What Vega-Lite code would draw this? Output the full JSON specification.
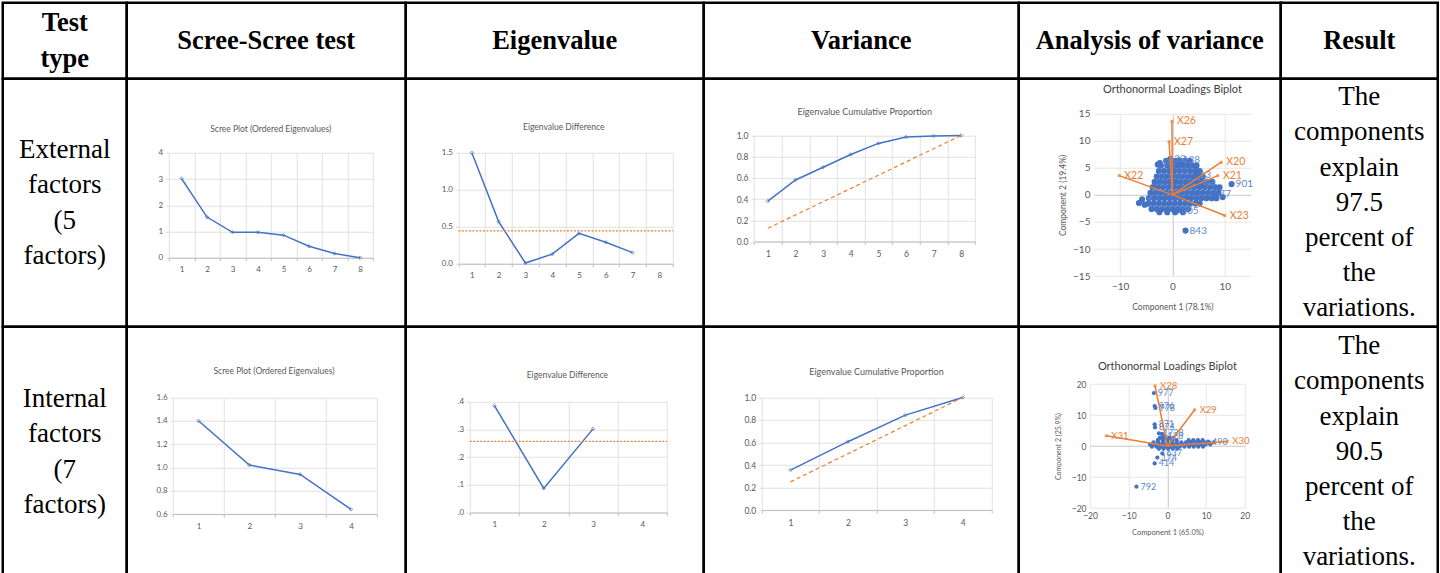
{
  "$schema": "https://vega.github.io/schema/vega-lite/v6.json",
  "background": "white",
  "padding": {"left": 0.75, "top": 0.75, "right": 0, "bottom": 0},
  "columns": 6,
  "spacing": 0,
  "bounds": "flush",
  "config": {
    "view": {"stroke": "#000000", "strokeWidth": 2.5},
    "axis": {"labelFont": "Lato", "labelFontSize": 8, "labelColor": "#595959", "gridColor": "#e1e1e1", "tickColor": "#d9d9d9", "domainColor": "#bfbfbf", "titleFont": "Lato", "titleFontWeight": "normal", "titleColor": "#595959", "titleFontSize": 8.5, "labelFlush": false, "labelOverlap": false},
    "text": {"font": "Lato"}
  },
  "datasets": {
    "scree1": [{"k":1,"v":3.02},{"k":2,"v":1.55},{"k":3,"v":0.97},{"k":4,"v":0.97},{"k":5,"v":0.86},{"k":6,"v":0.44},{"k":7,"v":0.16},{"k":8,"v":0.0}],
    "diff1": [{"k":1,"v":1.5},{"k":2,"v":0.57},{"k":3,"v":0.01},{"k":4,"v":0.13},{"k":5,"v":0.41},{"k":6,"v":0.29},{"k":7,"v":0.15}],
    "thr1": [{"v":0.445}],
    "cum1": [{"k":1,"v":0.38},{"k":2,"v":0.58},{"k":3,"v":0.70},{"k":4,"v":0.82},{"k":5,"v":0.925},{"k":6,"v":0.985},{"k":7,"v":0.995},{"k":8,"v":1.0}],
    "ref1": [{"k":1,"v":0.125},{"k":2,"v":0.25},{"k":3,"v":0.375},{"k":4,"v":0.5},{"k":5,"v":0.625},{"k":6,"v":0.75},{"k":7,"v":0.875},{"k":8,"v":1.0}],
    "scree2": [{"k":1,"v":1.40},{"k":2,"v":1.02},{"k":3,"v":0.94},{"k":4,"v":0.64}],
    "diff2": [{"k":1,"v":0.386},{"k":2,"v":0.087},{"k":3,"v":0.302}],
    "thr2": [{"v":0.257}],
    "cum2": [{"k":1,"v":0.355},{"k":2,"v":0.607},{"k":3,"v":0.843},{"k":4,"v":1.0}],
    "ref2": [{"k":1,"v":0.25},{"k":2,"v":0.5},{"k":3,"v":0.75},{"k":4,"v":1.0}],
    "bp1load": [{"x":9.33,"y":6.04,"lab":"X20"},{"x":8.69,"y":3.57,"lab":"X21"},{"x":-10.17,"y":3.57,"lab":"X22"},{"x":10.0,"y":-3.82,"lab":"X23"},{"x":-0.1,"y":13.6,"lab":"X26"},{"x":-0.65,"y":9.85,"lab":"X27"}],
    "bp2load": [{"x":-3.2,"y":19.45,"lab":"X28"},{"x":7.05,"y":11.7,"lab":"X29"},{"x":15.5,"y":1.5,"lab":"X30"},{"x":-15.8,"y":3.3,"lab":"X31"}],
    "bp1pts": [
      {"x":-1.2,"y":6.3},{"x":-0.3,"y":6.3},{"x":0.6,"y":6.3},{"x":1.5,"y":6.3},{"x":2.4,"y":6.3},{"x":3.3,"y":6.3},
      {"x":-2.2,"y":5.4},{"x":-1.0,"y":5.4},{"x":0.0,"y":5.4},{"x":1.0,"y":5.4},{"x":2.0,"y":5.4},{"x":3.0,"y":5.4},{"x":4.0,"y":5.4},{"x":4.6,"y":5.4},
      {"x":-2.6,"y":4.4},{"x":-1.6,"y":4.4},{"x":-0.6,"y":4.4},{"x":0.4,"y":4.4},{"x":1.4,"y":4.4},{"x":2.4,"y":4.4},{"x":3.4,"y":4.4},{"x":4.4,"y":4.4},{"x":5.2,"y":4.4},
      {"x":-3.0,"y":3.4},{"x":-2.0,"y":3.4},{"x":-1.0,"y":3.4},{"x":0.0,"y":3.4},{"x":1.0,"y":3.4},{"x":2.0,"y":3.4},{"x":3.0,"y":3.4},{"x":4.0,"y":3.4},{"x":5.0,"y":3.4},{"x":5.8,"y":3.4},
      {"x":-3.4,"y":2.4},{"x":-2.4,"y":2.4},{"x":-1.4,"y":2.4},{"x":-0.4,"y":2.4},{"x":0.6,"y":2.4},{"x":1.6,"y":2.4},{"x":2.6,"y":2.4},{"x":3.6,"y":2.4},{"x":4.6,"y":2.4},{"x":5.6,"y":2.4},{"x":6.6,"y":2.4},{"x":7.6,"y":2.4},
      {"x":-3.8,"y":1.4},{"x":-2.8,"y":1.4},{"x":-1.8,"y":1.4},{"x":-0.8,"y":1.4},{"x":0.2,"y":1.4},{"x":1.2,"y":1.4},{"x":2.2,"y":1.4},{"x":3.2,"y":1.4},{"x":4.2,"y":1.4},{"x":5.2,"y":1.4},{"x":6.2,"y":1.4},{"x":7.2,"y":1.4},{"x":8.2,"y":1.4},{"x":9.0,"y":1.4},
      {"x":-4.2,"y":0.4},{"x":-3.2,"y":0.4},{"x":-2.2,"y":0.4},{"x":-1.2,"y":0.4},{"x":-0.2,"y":0.4},{"x":0.8,"y":0.4},{"x":1.8,"y":0.4},{"x":2.8,"y":0.4},{"x":3.8,"y":0.4},{"x":4.8,"y":0.4},{"x":5.8,"y":0.4},{"x":6.8,"y":0.4},{"x":7.8,"y":0.4},{"x":8.8,"y":0.4},
      {"x":-4.5,"y":-0.6},{"x":-3.5,"y":-0.6},{"x":-2.5,"y":-0.6},{"x":-1.5,"y":-0.6},{"x":-0.5,"y":-0.6},{"x":0.5,"y":-0.6},{"x":1.5,"y":-0.6},{"x":2.5,"y":-0.6},{"x":3.5,"y":-0.6},{"x":4.5,"y":-0.6},{"x":5.5,"y":-0.6},{"x":6.5,"y":-0.6},{"x":7.5,"y":-0.6},{"x":8.4,"y":-0.6},
      {"x":-4.6,"y":-1.6},{"x":-3.6,"y":-1.6},{"x":-2.6,"y":-1.6},{"x":-1.6,"y":-1.6},{"x":-0.6,"y":-1.6},{"x":0.4,"y":-1.6},{"x":1.4,"y":-1.6},{"x":2.4,"y":-1.6},{"x":3.4,"y":-1.6},{"x":4.4,"y":-1.6},{"x":5.2,"y":-1.6},
      {"x":-4.0,"y":-2.6},{"x":-3.0,"y":-2.6},{"x":-2.0,"y":-2.6},{"x":-1.0,"y":-2.6},{"x":0.0,"y":-2.6},{"x":1.0,"y":-2.6},{"x":2.0,"y":-2.6},{"x":3.0,"y":-2.6},
      {"x":-2.5,"y":-3.2},{"x":-1.0,"y":-3.2},{"x":0.5,"y":-3.2},{"x":2.0,"y":-3.2},
      {"x":-2.8,"y":5.6},{"x":-6.4,"y":-1.5},{"x":-5.3,"y":-1.8},{"x":9.6,"y":-0.4},
      {"x":11.3,"y":2.0,"lab":"901"},{"x":2.5,"y":-6.6,"lab":"843"},{"x":0.9,"y":-2.9,"lab":"305"},{"x":-0.4,"y":6.6,"lab":"32"},{"x":1.2,"y":6.4,"lab":"138"},{"x":-2.4,"y":5.9,"lab":"86"},{"x":8.2,"y":0.2,"lab":"77"},{"x":4.4,"y":3.6,"lab":"13"},{"x":5.4,"y":2.1,"lab":"94"},{"x":-5.8,"y":-0.8,"lab":"9"}
    ],
    "bp2pts": [
      {"x":-1.5,"y":2.6},{"x":-0.5,"y":2.6},{"x":0.5,"y":2.6},{"x":1.5,"y":2.6},
      {"x":-2.5,"y":1.9},{"x":-1.2,"y":1.9},{"x":0.0,"y":1.9},{"x":1.2,"y":1.9},{"x":2.4,"y":1.9},{"x":5.5,"y":1.9},{"x":6.7,"y":1.9},{"x":7.9,"y":1.9},{"x":9.1,"y":1.9},
      {"x":-3.6,"y":1.2},{"x":-2.4,"y":1.2},{"x":-1.2,"y":1.2},{"x":0.0,"y":1.2},{"x":1.2,"y":1.2},{"x":2.4,"y":1.2},{"x":3.6,"y":1.2},{"x":4.8,"y":1.2},{"x":6.0,"y":1.2},{"x":7.2,"y":1.2},{"x":8.4,"y":1.2},{"x":9.6,"y":1.2},{"x":10.8,"y":1.2},{"x":12.0,"y":1.2},
      {"x":-4.5,"y":0.5},{"x":-3.3,"y":0.5},{"x":-2.1,"y":0.5},{"x":-0.9,"y":0.5},{"x":0.3,"y":0.5},{"x":1.5,"y":0.5},{"x":2.7,"y":0.5},{"x":3.9,"y":0.5},{"x":5.1,"y":0.5},{"x":6.3,"y":0.5},{"x":7.5,"y":0.5},{"x":8.7,"y":0.5},{"x":9.9,"y":0.5},{"x":11.1,"y":0.5},
      {"x":-4.0,"y":-0.2},{"x":-2.8,"y":-0.2},{"x":-1.6,"y":-0.2},{"x":-0.4,"y":-0.2},{"x":0.8,"y":-0.2},{"x":2.0,"y":-0.2},{"x":3.2,"y":-0.2},{"x":4.4,"y":-0.2},{"x":5.6,"y":-0.2},{"x":6.8,"y":-0.2},{"x":8.0,"y":-0.2},{"x":9.2,"y":-0.2},
      {"x":-2.2,"y":-0.9},{"x":-1.0,"y":-0.9},{"x":0.2,"y":-0.9},{"x":1.4,"y":-0.9},{"x":2.6,"y":-0.9},
      {"x":-1.4,"y":3.9},{"x":-2.0,"y":2.6},
      {"x":-3.5,"y":17.1,"lab":"977"},{"x":-3.3,"y":12.9,"lab":"976"},{"x":-3.1,"y":12.3,"lab":"978"},{"x":-3.3,"y":7.0,"lab":"871"},{"x":-3.2,"y":6.0,"lab":"874"},{"x":-2.2,"y":4.1,"lab":"1728"},{"x":-1.0,"y":3.3,"lab":"128"},{"x":-1.3,"y":-2.4,"lab":"637"},{"x":-2.6,"y":-3.7,"lab":"174"},{"x":-3.3,"y":-5.6,"lab":"414"},{"x":-8.0,"y":-13.1,"lab":"792"},{"x":10.5,"y":1.4,"lab":"498"}
    ]
  },
  "concat": [
    {"width": 124, "height": 76, "view": {"stroke": "#000000", "strokeWidth": 2.5}, "data": {"values": [{"t": "Test\ntype"}]}, "mark": {"type": "text", "font": "Liberation Serif", "fontSize": 26.5, "fontWeight": "bold", "lineBreak": "\n", "lineHeight": 36, "dy": -18, "color": "#000"}, "encoding": {"text": {"field": "t"}}},
    {"width": 279, "height": 76, "view": {"stroke": "#000000", "strokeWidth": 2.5}, "data": {"values": [{"t": "Scree-Scree test"}]}, "mark": {"type": "text", "font": "Liberation Serif", "fontSize": 26.5, "fontWeight": "bold", "color": "#000"}, "encoding": {"text": {"field": "t"}}},
    {"width": 298, "height": 76, "view": {"stroke": "#000000", "strokeWidth": 2.5}, "data": {"values": [{"t": "Eigenvalue"}]}, "mark": {"type": "text", "font": "Liberation Serif", "fontSize": 26.5, "fontWeight": "bold", "color": "#000"}, "encoding": {"text": {"field": "t"}}},
    {"width": 315, "height": 76, "view": {"stroke": "#000000", "strokeWidth": 2.5}, "data": {"values": [{"t": "Variance"}]}, "mark": {"type": "text", "font": "Liberation Serif", "fontSize": 26.5, "fontWeight": "bold", "color": "#000"}, "encoding": {"text": {"field": "t"}}},
    {"width": 262, "height": 76, "view": {"stroke": "#000000", "strokeWidth": 2.5}, "data": {"values": [{"t": "Analysis of variance"}]}, "mark": {"type": "text", "font": "Liberation Serif", "fontSize": 26.5, "fontWeight": "bold", "color": "#000"}, "encoding": {"text": {"field": "t"}}},
    {"width": 157, "height": 76, "view": {"stroke": "#000000", "strokeWidth": 2.5}, "data": {"values": [{"t": "Result"}]}, "mark": {"type": "text", "font": "Liberation Serif", "fontSize": 26.5, "fontWeight": "bold", "color": "#000"}, "encoding": {"text": {"field": "t"}}},

    {"width": 124, "height": 248, "view": {"stroke": "#000000", "strokeWidth": 2.5}, "data": {"values": [{"t": "External\nfactors\n(5\nfactors)"}]}, "mark": {"type": "text", "font": "Liberation Serif", "fontSize": 27, "lineBreak": "\n", "lineHeight": 35.5, "dy": -53.25, "color": "#000"}, "encoding": {"text": {"field": "t"}}},
    {
      "width": 279, "height": 248,
      "resolve": {"axis": {"x": "independent"}},
      "layer": [
        {"data": {"name": "scree1"}, "mark": {"type": "line", "color": "#4472c4", "strokeWidth": 1.5},
         "encoding": {
           "x": {"field": "k", "type": "quantitative", "scale": {"domain": [0.5, 8.5], "range": [42, 246], "nice": false, "zero": false},
                 "axis": {"orient": "top", "offset": -179, "values": [0.5,1.5,2.5,3.5,4.5,5.5,6.5,7.5,8.5], "labels": false, "grid": true, "ticks": true, "tickSize": -3, "tickColor": "#bfbfbf", "domain": true, "title": null}},
           "y": {"field": "v", "type": "quantitative", "scale": {"domain": [0, 4], "range": [179, 74], "nice": false, "zero": false},
                 "axis": {"orient": "left", "offset": -42, "values": [0,1,2,3,4], "format": "d", "grid": true, "tickSize": 3, "domain": false, "labelPadding": 3, "title": null}}
         }},
        {"data": {"name": "scree1"}, "mark": {"type": "point", "shape": "diamond", "size": 12, "filled": false, "color": "#4472c4", "strokeWidth": 1},
         "encoding": {
           "x": {"field": "k", "type": "quantitative", "scale": {"domain": [0.5, 8.5], "range": [42, 246], "nice": false, "zero": false},
                 "axis": {"orient": "bottom", "offset": -69, "values": [1,2,3,4,5,6,7,8], "grid": false, "ticks": false, "domain": false, "labelPadding": 8, "title": null}},
           "y": {"field": "v", "type": "quantitative"}
         }},
        {"data": {"values": [{"t": "Scree Plot (Ordered Eigenvalues)"}]}, "mark": {"type": "text", "fontSize": 8.5, "color": "#595959"},
         "encoding": {"x": {"datum": 4.5, "type": "quantitative", "axis": null}, "y": {"datum": 4.91, "type": "quantitative"}, "text": {"field": "t"}}}
      ]
    },
    {
      "width": 298, "height": 248,
      "resolve": {"axis": {"x": "independent"}},
      "layer": [
        {"data": {"name": "diff1"}, "mark": {"type": "line", "color": "#4472c4", "strokeWidth": 1.5},
         "encoding": {
           "x": {"field": "k", "type": "quantitative", "scale": {"domain": [0.5, 8.5], "range": [52.7, 267], "nice": false, "zero": false},
                 "axis": {"orient": "top", "offset": -185, "values": [0.5,1.5,2.5,3.5,4.5,5.5,6.5,7.5,8.5], "labels": false, "grid": true, "ticks": true, "tickSize": -3, "tickColor": "#bfbfbf", "domain": true, "title": null}},
           "y": {"field": "v", "type": "quantitative", "scale": {"domain": [0, 1.5], "range": [185, 74], "nice": false, "zero": false},
                 "axis": {"orient": "left", "offset": -52.7, "values": [0,0.5,1,1.5], "format": ".1f", "grid": true, "tickSize": 3, "domain": false, "labelPadding": 3, "title": null}}
         }},
        {"data": {"name": "diff1"}, "mark": {"type": "point", "shape": "diamond", "size": 12, "filled": false, "color": "#4472c4", "strokeWidth": 1},
         "encoding": {
           "x": {"field": "k", "type": "quantitative", "scale": {"domain": [0.5, 8.5], "range": [52.7, 267], "nice": false, "zero": false},
                 "axis": {"orient": "bottom", "offset": -63, "values": [1,2,3,4,5,6,7,8], "grid": false, "ticks": false, "domain": false, "labelPadding": 8, "title": null}},
           "y": {"field": "v", "type": "quantitative"}
         }},
        {"data": {"name": "thr1"}, "mark": {"type": "rule", "color": "#ed7d31", "strokeWidth": 1.3, "strokeDash": [2, 1.5]},
         "encoding": {"x": {"datum": 0.5, "type": "quantitative", "axis": null}, "x2": {"datum": 8.5}, "y": {"field": "v", "type": "quantitative"}}},
        {"data": {"values": [{"t": "Eigenvalue Difference"}]}, "mark": {"type": "text", "fontSize": 8.5, "color": "#595959"},
         "encoding": {"x": {"datum": 4.43, "type": "quantitative", "axis": null}, "y": {"datum": 1.851, "type": "quantitative"}, "text": {"field": "t"}}}
      ]
    },
    {
      "width": 315, "height": 248,
      "resolve": {"axis": {"x": "independent"}},
      "layer": [
        {"data": {"name": "cum1"}, "mark": {"type": "line", "color": "#4472c4", "strokeWidth": 1.5},
         "encoding": {
           "x": {"field": "k", "type": "quantitative", "scale": {"domain": [0.5, 8.5], "range": [50.3, 271.3], "nice": false, "zero": false},
                 "axis": {"orient": "top", "offset": -162.7, "values": [0.5,1.5,2.5,3.5,4.5,5.5,6.5,7.5,8.5], "labels": false, "grid": true, "ticks": true, "tickSize": -3, "tickColor": "#bfbfbf", "domain": true, "title": null}},
           "y": {"field": "v", "type": "quantitative", "scale": {"domain": [0, 1], "range": [162.7, 56.7], "nice": false, "zero": false},
                 "axis": {"orient": "left", "offset": -50.3, "values": [0,0.2,0.4,0.6,0.8,1], "format": ".1f", "grid": true, "tickSize": 3, "domain": false, "labelPadding": 3, "labelFontSize": 8.5, "title": null}}
         }},
        {"data": {"name": "cum1"}, "mark": {"type": "point", "shape": "diamond", "size": 12, "filled": false, "color": "#4472c4", "strokeWidth": 1},
         "encoding": {
           "x": {"field": "k", "type": "quantitative", "scale": {"domain": [0.5, 8.5], "range": [50.3, 271.3], "nice": false, "zero": false},
                 "axis": {"orient": "bottom", "offset": -85.3, "values": [1,2,3,4,5,6,7,8], "grid": false, "ticks": false, "domain": false, "labelPadding": 8, "labelFontSize": 8.5, "title": null}},
           "y": {"field": "v", "type": "quantitative"}
         }},
        {"data": {"name": "ref1"}, "mark": {"type": "line", "color": "#ed7d31", "strokeWidth": 1.2, "strokeDash": [4, 3]},
         "encoding": {"x": {"field": "k", "type": "quantitative", "axis": null}, "y": {"field": "v", "type": "quantitative"}}},
        {"data": {"values": [{"t": "Eigenvalue Cumulative Proportion"}]}, "mark": {"type": "text", "fontSize": 9, "color": "#595959"},
         "encoding": {"x": {"datum": 4.507, "type": "quantitative", "axis": null}, "y": {"datum": 1.2236, "type": "quantitative"}, "text": {"field": "t"}}}
      ]
    },
    {
      "width": 262, "height": 248,
      "resolve": {"axis": {"x": "independent"}},
      "layer": [
        {"data": {"name": "bp1pts"}, "mark": {"type": "circle", "size": 38, "color": "#4472c4", "opacity": 1},
         "encoding": {
           "x": {"field": "x", "type": "quantitative", "scale": {"domain": [-15, 15], "range": [75.2, 232.2], "nice": false, "zero": false},
                 "axis": {"orient": "top", "offset": -197.3, "values": [-10, 0, 10], "grid": true, "gridColor": {"condition": {"test": "datum.value === 0", "value": "#c8c8c8"}, "value": "#e6e6e6"}, "labels": false, "ticks": false, "domain": false, "title": null}},
           "y": {"field": "y", "type": "quantitative", "scale": {"domain": [-15, 15], "range": [197.3, 35], "nice": false, "zero": false},
                 "axis": {"orient": "left", "offset": -75.2, "values": [-15,-10,-5,0,5,10,15], "grid": true, "gridColor": {"condition": {"test": "datum.value === 0", "value": "#c8c8c8"}, "value": "#e6e6e6"}, "ticks": false, "domain": false, "labelPadding": 4, "labelFontSize": 10, "title": "Component 2 (19.4%)", "titlePadding": 5}}
         }},
        {"data": {"name": "bp1pts"}, "transform": [{"filter": "datum.lab"}], "mark": {"type": "text", "align": "left", "dx": 4, "fontSize": 10, "color": "#5b86cf"},
         "encoding": {
           "x": {"field": "x", "type": "quantitative", "axis": {"orient": "bottom", "offset": -50.7, "values": [-10, 0, 10], "grid": false, "ticks": false, "domain": false, "labelPadding": 5, "labelFontSize": 10, "title": "Component 1 (78.1%)", "titlePadding": 11}},
           "y": {"field": "y", "type": "quantitative"}, "text": {"field": "lab"}}},
        {"data": {"name": "bp1load"}, "mark": {"type": "rule", "color": "#ed7d31", "strokeWidth": 1.5},
         "encoding": {"x": {"field": "x", "type": "quantitative", "axis": null}, "y": {"field": "y", "type": "quantitative"}, "x2": {"datum": 0}, "y2": {"datum": 0}}},
        {"data": {"name": "bp1load"}, "mark": {"type": "square", "size": 9, "color": "#ed7d31", "filled": true},
         "encoding": {"x": {"field": "x", "type": "quantitative", "axis": null}, "y": {"field": "y", "type": "quantitative"}}},
        {"data": {"name": "bp1load"}, "mark": {"type": "text", "align": "left", "dx": 5, "fontSize": 10.5, "color": "#ed7d31"},
         "encoding": {"x": {"field": "x", "type": "quantitative", "axis": null}, "y": {"field": "y", "type": "quantitative"}, "text": {"field": "lab"}}},
        {"data": {"values": [{"t": "Orthonormal Loadings Biplot"}]}, "mark": {"type": "text", "fontSize": 11, "color": "#404040"},
         "encoding": {"x": {"datum": 0, "type": "quantitative", "axis": null}, "y": {"datum": 19.31, "type": "quantitative"}, "text": {"field": "t"}}}
      ]
    },
    {"width": 157, "height": 248, "view": {"stroke": "#000000", "strokeWidth": 2.5}, "data": {"values": [{"t": "The\ncomponents\nexplain\n97.5\npercent of\nthe\nvariations."}]}, "mark": {"type": "text", "font": "Liberation Serif", "fontSize": 27, "lineBreak": "\n", "lineHeight": 35.2, "dy": -105.6, "color": "#000"}, "encoding": {"text": {"field": "t"}}},

    {"width": 124, "height": 250, "view": {"stroke": "#000000", "strokeWidth": 2.5}, "data": {"values": [{"t": "Internal\nfactors\n(7\nfactors)"}]}, "mark": {"type": "text", "font": "Liberation Serif", "fontSize": 27, "lineBreak": "\n", "lineHeight": 35.5, "dy": -53.25, "color": "#000"}, "encoding": {"text": {"field": "t"}}},
    {
      "width": 279, "height": 250,
      "resolve": {"axis": {"x": "independent"}},
      "layer": [
        {"data": {"name": "scree2"}, "mark": {"type": "line", "color": "#4472c4", "strokeWidth": 1.5},
         "encoding": {
           "x": {"field": "k", "type": "quantitative", "scale": {"domain": [0.5, 4.5], "range": [46.3, 249.7], "nice": false, "zero": false},
                 "axis": {"orient": "top", "offset": -187.3, "values": [0.5,1.5,2.5,3.5,4.5], "labels": false, "grid": true, "ticks": true, "tickSize": -3, "tickColor": "#bfbfbf", "domain": true, "title": null}},
           "y": {"field": "v", "type": "quantitative", "scale": {"domain": [0.6, 1.6], "range": [187.3, 70.7], "nice": false, "zero": false},
                 "axis": {"orient": "left", "offset": -46.3, "values": [0.6,0.8,1.0,1.2,1.4,1.6], "format": ".1f", "grid": true, "tickSize": 3, "domain": false, "labelPadding": 3, "title": null}}
         }},
        {"data": {"name": "scree2"}, "mark": {"type": "point", "shape": "diamond", "size": 12, "filled": false, "color": "#4472c4", "strokeWidth": 1},
         "encoding": {
           "x": {"field": "k", "type": "quantitative", "scale": {"domain": [0.5, 4.5], "range": [46.3, 249.7], "nice": false, "zero": false},
                 "axis": {"orient": "bottom", "offset": -62.7, "values": [1,2,3,4], "grid": false, "ticks": false, "domain": false, "labelPadding": 8, "title": null}},
           "y": {"field": "v", "type": "quantitative"}
         }},
        {"data": {"values": [{"t": "Scree Plot (Ordered Eigenvalues)"}]}, "mark": {"type": "text", "fontSize": 8.5, "color": "#595959"},
         "encoding": {"x": {"datum": 2.486, "type": "quantitative", "axis": null}, "y": {"datum": 1.823, "type": "quantitative"}, "text": {"field": "t"}}}
      ]
    },
    {
      "width": 298, "height": 250,
      "resolve": {"axis": {"x": "independent"}},
      "layer": [
        {"data": {"name": "diff2"}, "mark": {"type": "line", "color": "#4472c4", "strokeWidth": 1.5},
         "encoding": {
           "x": {"field": "k", "type": "quantitative", "scale": {"domain": [0.5, 4.5], "range": [64, 261.3], "nice": false, "zero": false},
                 "axis": {"orient": "top", "offset": -185.7, "values": [0.5,1.5,2.5,3.5,4.5], "labels": false, "grid": true, "ticks": true, "tickSize": -3, "tickColor": "#bfbfbf", "domain": true, "title": null}},
           "y": {"field": "v", "type": "quantitative", "scale": {"domain": [0, 0.4], "range": [185.7, 75], "nice": false, "zero": false},
                 "axis": {"orient": "left", "offset": -64, "values": [0,0.1,0.2,0.3,0.4], "labelExpr": "replace(format(datum.value, '.1f'), '0.', '.')", "grid": true, "tickSize": 3, "domain": false, "labelPadding": 3, "title": null}}
         }},
        {"data": {"name": "diff2"}, "mark": {"type": "point", "shape": "diamond", "size": 12, "filled": false, "color": "#4472c4", "strokeWidth": 1},
         "encoding": {
           "x": {"field": "k", "type": "quantitative", "scale": {"domain": [0.5, 4.5], "range": [64, 261.3], "nice": false, "zero": false},
                 "axis": {"orient": "bottom", "offset": -64.3, "values": [1,2,3,4], "grid": false, "ticks": false, "domain": false, "labelPadding": 8, "title": null}},
           "y": {"field": "v", "type": "quantitative"}
         }},
        {"data": {"name": "thr2"}, "mark": {"type": "rule", "color": "#ed7d31", "strokeWidth": 1.3, "strokeDash": [2, 1.5]},
         "encoding": {"x": {"datum": 0.5, "type": "quantitative", "axis": null}, "x2": {"datum": 4.5}, "y": {"field": "v", "type": "quantitative"}}},
        {"data": {"values": [{"t": "Eigenvalue Difference"}]}, "mark": {"type": "text", "fontSize": 8.5, "color": "#595959"},
         "encoding": {"x": {"datum": 2.48, "type": "quantitative", "axis": null}, "y": {"datum": 0.4965, "type": "quantitative"}, "text": {"field": "t"}}}
      ]
    },
    {
      "width": 315, "height": 250,
      "resolve": {"axis": {"x": "independent"}},
      "layer": [
        {"data": {"name": "cum2"}, "mark": {"type": "line", "color": "#4472c4", "strokeWidth": 1.5},
         "encoding": {
           "x": {"field": "k", "type": "quantitative", "scale": {"domain": [0.5, 4.5], "range": [58, 287.7], "nice": false, "zero": false},
                 "axis": {"orient": "top", "offset": -183.3, "values": [0.5,1.5,2.5,3.5,4.5], "labels": false, "grid": true, "ticks": true, "tickSize": -3, "tickColor": "#bfbfbf", "domain": true, "title": null}},
           "y": {"field": "v", "type": "quantitative", "scale": {"domain": [0, 1], "range": [183.3, 70.7], "nice": false, "zero": false},
                 "axis": {"orient": "left", "offset": -58, "values": [0,0.2,0.4,0.6,0.8,1], "format": ".1f", "grid": true, "tickSize": 3, "domain": false, "labelPadding": 3, "labelFontSize": 8.5, "title": null}}
         }},
        {"data": {"name": "cum2"}, "mark": {"type": "point", "shape": "diamond", "size": 12, "filled": false, "color": "#4472c4", "strokeWidth": 1},
         "encoding": {
           "x": {"field": "k", "type": "quantitative", "scale": {"domain": [0.5, 4.5], "range": [58, 287.7], "nice": false, "zero": false},
                 "axis": {"orient": "bottom", "offset": -66.7, "values": [1,2,3,4], "grid": false, "ticks": false, "domain": false, "labelPadding": 8, "labelFontSize": 8.5, "title": null}},
           "y": {"field": "v", "type": "quantitative"}
         }},
        {"data": {"name": "ref2"}, "mark": {"type": "line", "color": "#ed7d31", "strokeWidth": 1.2, "strokeDash": [4, 3]},
         "encoding": {"x": {"field": "k", "type": "quantitative", "axis": null}, "y": {"field": "v", "type": "quantitative"}}},
        {"data": {"values": [{"t": "Eigenvalue Cumulative Proportion"}]}, "mark": {"type": "text", "fontSize": 9, "color": "#595959"},
         "encoding": {"x": {"datum": 2.498, "type": "quantitative", "axis": null}, "y": {"datum": 1.222, "type": "quantitative"}, "text": {"field": "t"}}}
      ]
    },
    {
      "width": 262, "height": 250,
      "resolve": {"axis": {"x": "independent"}},
      "layer": [
        {"data": {"name": "bp2pts"}, "mark": {"type": "circle", "size": 18, "color": "#4472c4", "opacity": 1},
         "encoding": {
           "x": {"field": "x", "type": "quantitative", "scale": {"domain": [-20, 20], "range": [71.3, 226], "nice": false, "zero": false},
                 "axis": {"orient": "top", "offset": -181.3, "values": [-20, -10, 0, 10, 20], "grid": true, "gridColor": {"condition": {"test": "datum.value === 0", "value": "#c8c8c8"}, "value": "#e6e6e6"}, "labels": false, "ticks": false, "domain": false, "title": null}},
           "y": {"field": "y", "type": "quantitative", "scale": {"domain": [-20, 20], "range": [181.3, 57.3], "nice": false, "zero": false},
                 "axis": {"orient": "left", "offset": -71.3, "values": [-20,-15,-10,-5,0,5,10,15,20], "grid": true, "gridColor": {"condition": {"test": "datum.value === 0", "value": "#c8c8c8"}, "value": "#e6e6e6"}, "ticks": false, "domain": false, "labelPadding": 4, "labelFontSize": 8.5, "title": "Component 2 (25.9%)", "titlePadding": 10, "titleFontSize": 7}}
         }},
        {"data": {"name": "bp2pts"}, "transform": [{"filter": "datum.lab"}], "mark": {"type": "text", "align": "left", "dx": 4, "fontSize": 9, "color": "#5b86cf"},
         "encoding": {
           "x": {"field": "x", "type": "quantitative", "axis": {"orient": "bottom", "offset": -68.7, "values": [-20, -10, 0, 10, 20], "grid": false, "ticks": false, "domain": false, "labelPadding": 3, "labelFontSize": 8.5, "title": "Component 1 (65.0%)", "titlePadding": 9, "titleFontSize": 7.5}},
           "y": {"field": "y", "type": "quantitative"}, "text": {"field": "lab"}}},
        {"data": {"name": "bp2load"}, "mark": {"type": "rule", "color": "#ed7d31", "strokeWidth": 1.5},
         "encoding": {"x": {"field": "x", "type": "quantitative", "axis": null}, "y": {"field": "y", "type": "quantitative"}, "x2": {"datum": 0}, "y2": {"datum": 0}}},
        {"data": {"name": "bp2load"}, "mark": {"type": "square", "size": 9, "color": "#ed7d31", "filled": true},
         "encoding": {"x": {"field": "x", "type": "quantitative", "axis": null}, "y": {"field": "y", "type": "quantitative"}}},
        {"data": {"name": "bp2load"}, "mark": {"type": "text", "align": "left", "dx": 5, "fontSize": 9.5, "color": "#ed7d31"},
         "encoding": {"x": {"field": "x", "type": "quantitative", "axis": null}, "y": {"field": "y", "type": "quantitative"}, "text": {"field": "lab"}}},
        {"data": {"values": [{"t": "Orthonormal Loadings Biplot"}]}, "mark": {"type": "text", "fontSize": 11, "color": "#404040"},
         "encoding": {"x": {"datum": 0, "type": "quantitative", "axis": null}, "y": {"datum": 25.6, "type": "quantitative"}, "text": {"field": "t"}}}
      ]
    },
    {"width": 157, "height": 250, "view": {"stroke": "#000000", "strokeWidth": 2.5}, "data": {"values": [{"t": "The\ncomponents\nexplain\n90.5\npercent of\nthe\nvariations."}]}, "mark": {"type": "text", "font": "Liberation Serif", "fontSize": 27, "lineBreak": "\n", "lineHeight": 35.2, "dy": -105.6, "color": "#000"}, "encoding": {"text": {"field": "t"}}}
  ]
}
